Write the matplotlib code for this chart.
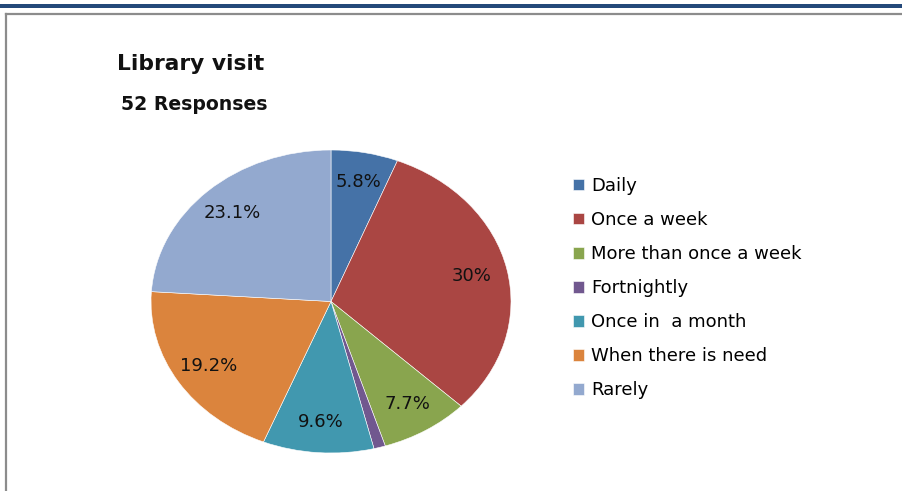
import matplotlib
matplotlib.use("Agg")
import matplotlib.pyplot as plt
from matplotlib.patches import Rectangle
from matplotlib.lines import Line2D

categories = ["Daily", "Once a week", "More than once a week", "Fortnightly",
              "Once in  a month", "When there is need", "Rarely"]
values = [5.8, 30, 7.7, 1.0, 9.6, 19.2, 23.1]
value_labels = ["5.8%", "30%", "7.7%", "", "9.6%", "19.2%", "23.1%"]
colors = ["#4572A7", "#AA4643", "#89A54E", "#71588F", "#4198AF", "#DB843D", "#93A9CF"]
title = "Library visit"
subtitle = "52 Responses"

W, H = 903, 491
fig = plt.figure(figsize=(W / 100, H / 100), dpi=100)
fig.patch.set_facecolor("white")

# top blue bar and gray frame
fig.patches.append(Rectangle((0, 1 - 8 / H), 1, 4 / H, transform=fig.transFigure,
                             facecolor="#24497A", edgecolor="none"))
fig.lines.append(Line2D([6 / W, 6 / W], [0, 1 - 13.5 / H], transform=fig.transFigure,
                        color="#8C8C8C", lw=1.6))
fig.lines.append(Line2D([6 / W, 1], [1 - 13.5 / H, 1 - 13.5 / H], transform=fig.transFigure,
                        color="#8C8C8C", lw=1.6))

ax = fig.add_axes([151 / W, (H - 453) / H, 360 / W, 303 / H])
idx = {"i": 0}

def fmt(p):
    s = value_labels[idx["i"]]
    idx["i"] += 1
    return s

wedges, texts, autotexts = ax.pie(values, colors=colors, startangle=90, counterclock=False,
                                  autopct=fmt, pctdistance=0.8,
                                  wedgeprops=dict(edgecolor="white", linewidth=0.4),
                                  textprops=dict(fontsize=13, color="#111111", family="DejaVu Sans"))
ax.set_aspect("auto")
ax.set_xlim(-1, 1)
ax.set_ylim(-1, 1)
ax.axis("off")

fig.text(117 / W, 1 - 64 / H, title, fontsize=15.7, fontweight="bold", va="center", ha="left",
         family="DejaVu Sans", color="#111111")
fig.text(121 / W, 1 - 104 / H, subtitle, fontsize=13.6, fontweight="bold", va="center", ha="left",
         family="DejaVu Sans", color="#111111")

leg = fig.legend(wedges, categories, loc="upper left", bbox_to_anchor=(573 / W, 1 - 177 / H),
                 frameon=False, handlelength=0.6, handleheight=0.6,
                 handletextpad=0.4, labelspacing=0.89, borderpad=0, borderaxespad=0,
                 prop=dict(family="DejaVu Sans", size=13))

fig.savefig("out.png", dpi=100)
